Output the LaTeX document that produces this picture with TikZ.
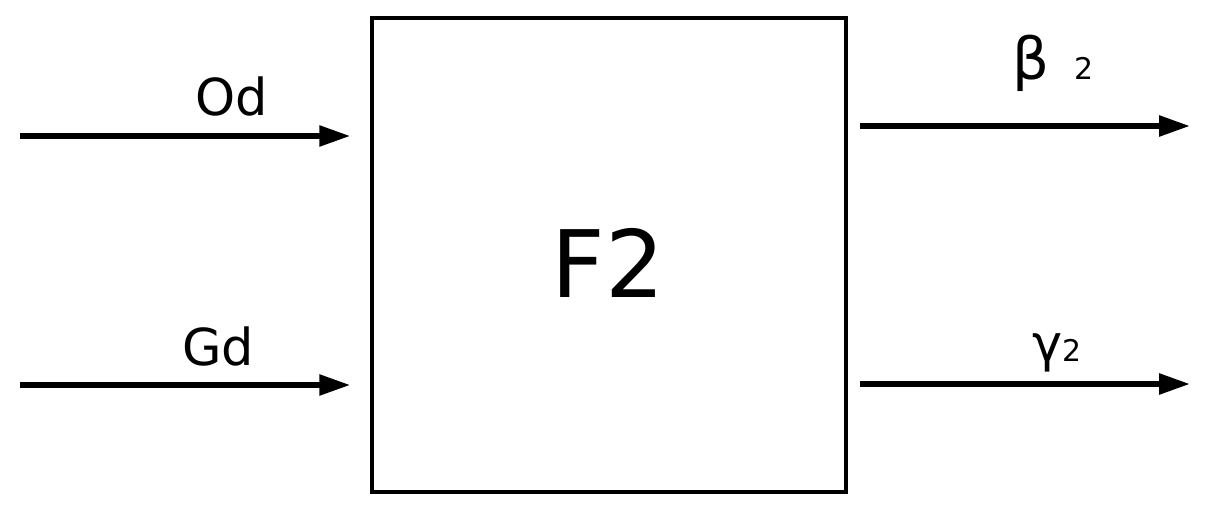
\documentclass[tikz,border=0pt]{standalone}
\usepackage{fontspec}
\setmainfont{DejaVu Sans}
\usetikzlibrary{arrows.meta}
\begin{document}
\begin{tikzpicture}[x=0.02cm, y=-0.02cm,
	sig/.style={line width=3.2pt, -{Triangle[length=0.62cm, width=0.4cm]}},
	lbl/.style={font=\fontsize{29}{34}\selectfont, inner sep=0pt},
	sub/.style={font=\fontsize{17}{20}\selectfont}]
	\useasboundingbox (0,0) rectangle (1206,513);
	
	\node[draw, line width=2pt, minimum width=9.48cm, minimum height=9.48cm, inner sep=0pt] (F2) at (609,255) {};
	\node[font=\fontsize{53}{60}\selectfont] (F2name) at (608,263) {F2};
	
	% inputs
	\coordinate (Odin) at (20,136);
	\coordinate (Gdin) at (20,385);
	\draw[sig, shorten >=0.4cm] (Odin) -- (Odin -| F2.west);
	\draw[sig, shorten >=0.4cm] (Gdin) -- (Gdin -| F2.west);
	\node[lbl] (Od) at (232,97) {Od};
	\node[lbl] (Gd) at (218,347) {Gd};
	
	% outputs
	\coordinate (betaout) at (1190,126);
	\coordinate (gammaout) at (1190,384);
	\draw[sig, shorten <=0.24cm] (betaout -| F2.east) -- (betaout);
	\draw[sig, shorten <=0.24cm] (gammaout -| F2.east) -- (gammaout);
	\node[lbl, anchor=base west] (beta) at (1012,80) {{\fontsize{33}{38}\selectfont β}\hspace{0.5cm}{\fontsize{17}{20}\selectfont 2}};
	\node[lbl, anchor=base west] (gamma) at (1032,361) {γ{\fontsize{17}{20}\selectfont 2}};
\end{tikzpicture}
\end{document}
